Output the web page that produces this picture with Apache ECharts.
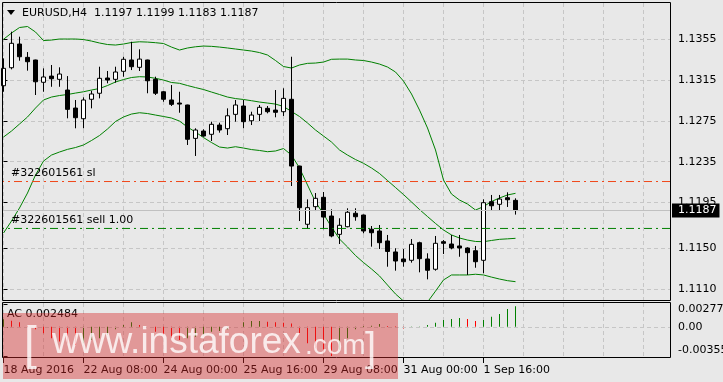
<!DOCTYPE html>
<html><head><meta charset="utf-8">
<script src="https://cdn.jsdelivr.net/npm/echarts@6.0.0/dist/echarts.min.js"></script>
<style>html,body{margin:0;padding:0;background:#e8e8e8;}#chart{width:723px;height:382px;}</style>
</head><body><div id="chart"></div>
<script>
const symbolTitle = 'EURUSD,H4';
const barTimes = [
 '18 Aug 16:00','18 Aug 20:00','19 Aug 00:00','19 Aug 04:00','19 Aug 08:00','19 Aug 12:00','19 Aug 16:00','19 Aug 20:00',
 '22 Aug 00:00','22 Aug 04:00','22 Aug 08:00','22 Aug 12:00','22 Aug 16:00','22 Aug 20:00',
 '23 Aug 00:00','23 Aug 04:00','23 Aug 08:00','23 Aug 12:00','23 Aug 16:00','23 Aug 20:00',
 '24 Aug 00:00','24 Aug 04:00','24 Aug 08:00','24 Aug 12:00','24 Aug 16:00','24 Aug 20:00',
 '25 Aug 00:00','25 Aug 04:00','25 Aug 08:00','25 Aug 12:00','25 Aug 16:00','25 Aug 20:00',
 '26 Aug 00:00','26 Aug 04:00','26 Aug 08:00','26 Aug 12:00','26 Aug 16:00','26 Aug 20:00',
 '29 Aug 00:00','29 Aug 04:00','29 Aug 08:00','29 Aug 12:00','29 Aug 16:00','29 Aug 20:00',
 '30 Aug 00:00','30 Aug 04:00','30 Aug 08:00','30 Aug 12:00','30 Aug 16:00','30 Aug 20:00',
 '31 Aug 00:00','31 Aug 04:00','31 Aug 08:00','31 Aug 12:00','31 Aug 16:00','31 Aug 20:00',
 '1 Sep 00:00','1 Sep 04:00','1 Sep 08:00','1 Sep 12:00','1 Sep 16:00','1 Sep 20:00',
 '2 Sep 00:00','2 Sep 04:00','2 Sep 08:00'];

const openP = [1.13096,1.13273,1.13506,1.13375,1.13349,1.13130,1.13191,1.13159,1.13054,1.12877,
1.12772,1.12963,1.13022,1.13172,1.13159,1.13238,1.13349,1.13277,1.13349,1.13159,
1.13037,1.12956,1.12926,1.12907,1.12579,1.12651,1.12619,1.12710,1.12674,1.12815,
1.12897,1.12752,1.12815,1.12874,1.12857,1.12841,1.12963,1.12307,1.11735,1.11908,
1.12000,1.11816,1.11636,1.11711,1.11843,1.11826,1.11686,1.11669,1.11571,1.11463,
1.11394,1.11381,1.11554,1.11394,1.11293,1.11564,1.11541,1.11522,1.11502,1.11475,
1.11381,1.11957,1.11931,1.11996,1.1197];
const highP = [1.13365,1.13627,1.13578,1.13427,1.13352,1.13267,1.13300,1.13277,1.13191,1.12956,
1.12982,1.13047,1.13283,1.13241,1.13283,1.13381,1.13528,1.13454,1.13352,1.13185,
1.13044,1.13103,1.13037,1.12910,1.12678,1.12668,1.12743,1.12733,1.12874,1.12956,
1.12956,1.12841,1.12907,1.12897,1.13054,1.13071,1.13381,1.12310,1.11980,1.12042,
1.12052,1.11882,1.11794,1.11892,1.11892,1.11830,1.11718,1.11728,1.11630,1.11499,
1.11492,1.11590,1.11564,1.11450,1.11620,1.11580,1.11630,1.11630,1.11509,1.11522,
1.11980,1.12023,1.12023,1.12049,1.1199];
const lowP = [1.13037,1.13257,1.13342,1.13244,1.13005,1.13037,1.13086,1.13086,1.12776,1.12678,
1.12678,1.12874,1.12972,1.13120,1.13126,1.13185,1.13250,1.13241,1.13022,1.13005,
1.12939,1.12897,1.12831,1.12514,1.12406,1.12595,1.12553,1.12635,1.12612,1.12743,
1.12678,1.12710,1.12749,1.12825,1.12786,1.12799,1.12111,1.11767,1.11691,1.11865,
1.11686,1.11607,1.11541,1.11705,1.11770,1.11646,1.11515,1.11492,1.11318,1.11279,
1.11318,1.11358,1.11263,1.11194,1.11279,1.11443,1.11489,1.11416,1.11237,1.11308,
1.11253,1.11868,1.11875,1.11905,1.1183];
const closeP = [1.13267,1.13513,1.13381,1.13332,1.13135,1.13182,1.13165,1.13211,1.12864,1.12782,
1.12956,1.13015,1.13169,1.13152,1.13231,1.13356,1.13283,1.13358,1.13145,1.13022,
1.12963,1.12913,1.12916,1.12570,1.12661,1.12602,1.12717,1.12661,1.12801,1.12907,
1.12743,1.12808,1.12884,1.12841,1.12835,1.12972,1.12307,1.11898,1.11898,1.11990,
1.11806,1.11620,1.11725,1.11853,1.11809,1.11669,1.11652,1.11554,1.11468,1.11374,
1.11367,1.11538,1.11397,1.11283,1.11548,1.11548,1.11502,1.11502,1.11456,1.11367,
1.11947,1.11917,1.11983,1.11976,1.1187];

const bbUpper = [1.13552,1.13614,1.13668,1.13678,1.13624,1.13540,1.13545,1.13555,1.13555,1.13555,
1.13550,1.13535,1.13516,1.13501,1.13496,1.13506,1.13521,1.13528,1.13525,1.13519,
1.13511,1.13476,1.13447,1.13467,1.13479,1.13486,1.13483,1.13476,1.13467,1.13457,
1.13447,1.13437,1.13422,1.13398,1.13344,1.13285,1.13270,1.13300,1.13316,1.13319,
1.13329,1.13356,1.13358,1.13358,1.13349,1.13344,1.13329,1.13309,1.13280,1.13231,
1.13142,1.13015,1.12857,1.12681,1.12465,1.12170,1.12032,1.11973,1.11934,1.11875,
1.11908,1.11959,1.11993,1.12023,1.12039];
const bbMiddle = [1.12592,1.12651,1.12720,1.12789,1.12877,1.12956,1.12985,1.13000,1.13010,1.13024,
1.13037,1.13054,1.13069,1.13098,1.13133,1.13157,1.13177,1.13185,1.13182,1.13169,
1.13152,1.13128,1.13120,1.13098,1.13078,1.13059,1.13034,1.13010,1.12985,1.12970,
1.12961,1.12949,1.12936,1.12926,1.12916,1.12892,1.12843,1.12794,1.12730,1.12661,
1.12602,1.12543,1.12465,1.12415,1.12371,1.12334,1.12288,1.12234,1.12165,1.12096,
1.12027,1.11954,1.11880,1.11811,1.11743,1.11679,1.11630,1.11600,1.11580,1.11566,
1.11564,1.11576,1.11587,1.11592,1.11597];
const bbLower = [1.11649,1.11767,1.11895,1.12042,1.12219,1.12356,1.12415,1.12445,1.12471,1.12489,
1.12514,1.12558,1.12607,1.12671,1.12745,1.12789,1.12818,1.12831,1.12823,1.12808,
1.12794,1.12779,1.12749,1.12690,1.12641,1.12587,1.12538,1.12494,1.12484,1.12497,
1.12484,1.12469,1.12460,1.12448,1.12455,1.12479,1.12415,1.12288,1.12121,1.11954,
1.11836,1.11708,1.11590,1.11512,1.11428,1.11359,1.11296,1.11227,1.11138,1.11050,
1.10981,1.10952,1.10942,1.10971,1.11078,1.11188,1.11237,1.11237,1.11237,1.11244,
1.11237,1.11216,1.11197,1.11181,1.11171];

const acValues = [0.00091,0.00074,0.00055,0.00013,-0.00030,-0.00079,-0.00140,-0.00180,-0.00200,-0.00220,
-0.00200,-0.00160,-0.00140,-0.00100,-0.00030,0.00022,0.00055,0.00022,0.00002,-0.00060,
-0.00100,-0.00140,-0.00160,-0.00140,-0.00120,-0.00100,-0.00060,-0.00050,-0.00030,0.00002,
0.00055,0.00070,0.00072,0.00060,0.00055,0.00050,0.00040,-0.00080,-0.00200,-0.00260,
-0.00320,-0.00355,-0.00280,-0.00140,-0.00030,0.00010,0.00012,0.00035,0.00010,0.00008,
-0.00020,-0.00005,0.00004,0.00022,0.00050,0.00083,0.00095,0.00107,0.00095,0.00070,
0.00083,0.00123,0.00156,0.00216,0.002484];

const priceTicks = [1.1110,1.1150,1.1195,1.1235,1.1275,1.1315,1.1355];
const acTicks = [-0.00355, 0, 0.002772];
const acTickLabels = ['-0.00355','0.00','0.002772'];
const timeTickIdx = [0,10,20,30,40,50,60];
const timeTickLabels = ['18 Aug 2016','22 Aug 08:00','24 Aug 00:00','25 Aug 16:00','29 Aug 08:00','31 Aug 00:00','1 Sep 16:00'];
const gridStepIdx = [0,5,10,15,20,25,30,35,40,45,50,55,60,65,70,75,80];
const orderLabels = ['#322601561 sl','#322601561 sell 1.00'];
const orderPrices = [1.12155, 1.11694];
const orderColors = ['#f0481a', '#008000'];

const FONT = 'DejaVu Sans';
const X_MIN = -0.0625, X_MAX = 83.3125;
const Y_MIN = 1.10991, Y_MAX = 1.13909;
const AC_MIN = -0.003793, AC_MAX = 0.002894;
const GRIDC = '#c6c6c6';

const last = barTimes.length - 1;
const candleData = barTimes.map((t, i) => [i, openP[i], closeP[i], lowP[i], highP[i]]);
const toLine = arr => arr.map((v, i) => [i, v]);
const acData = acValues.map((v, i) => ({
  value: [i, v],
  itemStyle: { color: (i === 0 || v > acValues[i - 1]) ? '#008000' : '#ff0000' }
}));

const chart = echarts.init(document.getElementById('chart'), null, { renderer: 'canvas' });

const xBase = (grid, pos) => ({
  type: 'value', gridIndex: grid, min: X_MIN, max: X_MAX, position: pos,
  axisLine: { show: false },
  axisTick: { show: false, customValues: gridStepIdx },
  axisLabel: { show: false },
  splitLine: { show: true, lineStyle: { color: GRIDC, type: [4, 3], width: 1 } }
});

const lbl = { color: '#000', fontFamily: FONT, fontSize: 11 };
const hLine = (v, lineStyle, label) => [
  { coord: [X_MIN, v], lineStyle: lineStyle, label: label },
  { coord: [X_MAX, v] }
];

// order level lines drawn right-to-left so the end label sits at the left edge
const orderSeries = orderPrices.map((p, i) => ({
  type: 'line', xAxisIndex: 0, yAxisIndex: 0, z: 4, silent: true,
  data: [[X_MAX, p], [X_MIN, p]], showSymbol: false, symbol: 'none',
  lineStyle: { color: orderColors[i], type: [8, 4, 2, 4], width: 1 },
  endLabel: Object.assign({ show: true, formatter: orderLabels[i], distance: 8, offset: [0, -8] }, lbl)
}));

chart.setOption({
  animation: false,
  backgroundColor: '#e8e8e8',
  textStyle: { fontFamily: FONT },
  grid: [
    { left: 3, top: 3, width: 667, height: 297, containLabel: false, outerBoundsMode: 'none' },
    { left: 3, top: 303, width: 667, height: 55, containLabel: false, outerBoundsMode: 'none' }
  ],
  xAxis: [
    xBase(0, 'bottom'),
    xBase(1, 'top'),
    {
      type: 'value', gridIndex: 1, min: X_MIN, max: X_MAX, position: 'bottom',
      axisLine: { show: false },
      axisTick: { show: true, customValues: timeTickIdx, length: 5, lineStyle: { color: '#000', width: 1 } },
      axisLabel: Object.assign({ show: true, customValues: timeTickIdx, align: 'left', margin: 7,
        formatter: v => timeTickLabels[timeTickIdx.indexOf(v)] }, lbl),
      splitLine: { show: false }
    }
  ],
  yAxis: [
    {
      type: 'value', gridIndex: 0, position: 'right', min: Y_MIN, max: Y_MAX,
      axisLine: { show: false },
      axisTick: { show: true, customValues: priceTicks, length: 4, lineStyle: { color: '#000' } },
      axisLabel: Object.assign({ show: true, customValues: priceTicks, margin: 8, formatter: v => v.toFixed(4) }, lbl),
      splitLine: { show: true, lineStyle: { color: GRIDC, type: [4, 3], width: 1 } }
    },
    {
      type: 'value', gridIndex: 1, position: 'right', min: AC_MIN, max: AC_MAX,
      axisLine: { show: false },
      axisTick: { show: true, customValues: acTicks, length: 4, lineStyle: { color: '#000' } },
      axisLabel: Object.assign({ show: true, customValues: acTicks, margin: 8,
        verticalAlignMinLabel: 'bottom', verticalAlignMaxLabel: 'top',
        formatter: v => acTickLabels[acTicks.indexOf(v)] }, lbl),
      splitLine: { show: false }
    }
  ],
  series: [
    {
      type: 'line', xAxisIndex: 0, yAxisIndex: 0, data: toLine(bbUpper), showSymbol: false, symbol: 'none',
      lineStyle: { color: '#008000', width: 1 }, silent: true, z: 2,
      markLine: {
        silent: true, symbol: ['none', 'none'], animation: false,
        data: [
          hLine(closeP[last], { color: '#c0c0c0', type: 'solid', width: 1 },
            Object.assign({ show: true, position: 'end', distance: 2, formatter: closeP[last].toFixed(4) }, lbl,
              { backgroundColor: '#000', color: '#fff', lineHeight: 13, padding: [1, 3, 0, 6] }))
        ]
      }
    },
    {
      type: 'line', xAxisIndex: 0, yAxisIndex: 0, data: toLine(bbMiddle), showSymbol: false, symbol: 'none',
      lineStyle: { color: '#008000', width: 1 }, silent: true, z: 2
    },
    {
      type: 'line', xAxisIndex: 0, yAxisIndex: 0, data: toLine(bbLower), showSymbol: false, symbol: 'none',
      lineStyle: { color: '#008000', width: 1 }, silent: true, z: 2
    },
    {
      type: 'candlestick', xAxisIndex: 0, yAxisIndex: 0, z: 3,
      dimensions: ['idx', 'open', 'close', 'lowest', 'highest'],
      encode: { x: 'idx', y: ['open', 'close', 'lowest', 'highest'] },
      data: candleData, barWidth: 5,
      itemStyle: { color: '#ffffff', color0: '#000000', borderColor: '#000000', borderColor0: '#000000', borderColorDoji: '#000000', borderWidth: 1 }
    },
    {
      type: 'bar', xAxisIndex: 1, yAxisIndex: 1, data: acData, barWidth: 1, silent: true,
      markLine: {
        silent: true, symbol: ['none', 'none'], animation: false, label: { show: false },
        data: [hLine(0, { color: GRIDC, type: [4, 3], width: 1 }, { show: false })]
      }
    }
  ].concat(orderSeries),
  graphic: [
    { type: 'rect', shape: { x: 2.5, y: 2.5, width: 668, height: 298 }, style: { fill: null, stroke: '#000', lineWidth: 1 }, z: 50, silent: true },
    { type: 'rect', shape: { x: 2.5, y: 302.5, width: 668, height: 55 }, style: { fill: null, stroke: '#000', lineWidth: 1 }, z: 50, silent: true },
    { type: 'polygon', shape: { points: [[7, 10], [15, 10], [11, 15]] }, style: { fill: '#000' }, z: 50, silent: true },
    { type: 'text', x: 22, y: 13, style: { text: symbolTitle, fill: '#000', font: '11px "DejaVu Sans"', verticalAlign: 'middle' }, z: 50 },
    { type: 'text', x: 94, y: 13, style: { text: [openP[last], highP[last], lowP[last], closeP[last]].map(v => v.toFixed(4)).join(' '), fill: '#000', font: '11px "DejaVu Sans"', verticalAlign: 'middle' }, z: 50 },
    { type: 'text', x: 7, y: 314, style: { text: 'AC ' + acValues[last].toFixed(6), fill: '#000', font: '11px "DejaVu Sans"', verticalAlign: 'middle' }, z: 50 },
    { type: 'rect', shape: { x: 3, y: 313, width: 395, height: 66 }, style: { fill: 'rgba(215,40,40,0.42)' }, z: 100, silent: true },
    { type: 'text', x: 24, y: 346, style: { text: '[', fill: 'rgba(255,255,255,0.8)', font: '46px "Liberation Sans"', verticalAlign: 'middle' }, z: 101 },
    { type: 'text', x: 52, y: 343, style: { text: 'www.instaforex', fill: 'rgba(255,255,255,0.8)', font: '37px "Liberation Sans"', verticalAlign: 'middle' }, z: 101 },
    { type: 'text', x: 305, y: 346, style: { text: '.com', fill: 'rgba(255,255,255,0.8)', font: '28px "Liberation Sans"', verticalAlign: 'middle' }, z: 101 },
    { type: 'text', x: 365, y: 350, style: { text: ']', fill: 'rgba(255,255,255,0.8)', font: '40px "Liberation Sans"', verticalAlign: 'middle' }, z: 101 }
  ]
});
</script></body></html>
